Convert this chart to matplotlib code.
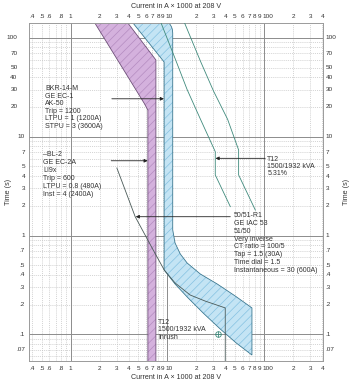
import numpy as np
import matplotlib.pyplot as plt
from matplotlib.patches import Polygon
from matplotlib.transforms import offset_copy
from matplotlib.ticker import FixedLocator, NullFormatter, NullLocator

plt.rcParams['font.family'] = ['Liberation Sans', 'DejaVu Sans']
plt.rcParams['hatch.linewidth'] = 0.5

# axis ticks (current in kA at 208 V, time in s)
x_ticks = [0.4, 0.5, 0.6, 0.8, 1, 2, 3, 4, 5, 6, 7, 8, 9, 10,
           20, 30, 40, 50, 60, 70, 80, 90, 100, 200, 300, 400]
x_labels = ['.4', '.5', '.6', '.8', '1', '2', '3', '4', '5', '6', '7', '8', '9', '10',
            '2', '3', '4', '5', '6', '7', '8', '9', '100', '2', '3', '4']
y_ticks = [0.07, 0.1, 0.2, 0.3, 0.4, 0.5, 0.7, 1, 2, 3, 4, 5, 7,
           10, 20, 30, 40, 50, 70, 100]
y_labels = ['.07', '.1', '.2', '.3', '.4', '.5', '.7', '1', '2', '3', '4', '5', '7',
            '10', '20', '30', '40', '50', '70', '100']

# BL-2 breaker band
bl2_x = [1.71, 5.75, 6.28, 6.28, 7.6, 7.6, 3.72]
bl2_y = [150, 21.8, 18.6, 0.04, 0.04, 59.8, 150]

# BKR-14-M breaker band
bkr_x = [4.2, 9.25, 9.25, 12.0, 16.4, 23.5, 35.3, 51.6, 75, 75,
         50.4, 32.8, 21.9, 16.0, 13.6, 12.0, 11.35, 11.35, 11.25, 11.0, 10.5, 10.2]
bkr_y = [150, 57, 0.448, 0.323, 0.233, 0.164, 0.113, 0.0817, 0.0617, 0.185,
         0.244, 0.323, 0.408, 0.527, 0.65, 0.84, 1.14, 112, 122, 130, 140, 150]

# 50/51-R1 relay curve
relay_x = [3.0, 4.64, 7.13, 9.27, 12.0, 17.2, 24.6, 39.7, 39.7]
relay_y = [4.82, 1.55, 0.713, 0.448, 0.331, 0.25, 0.217, 0.185, 0.04]

# T12 damage curves
t12a_x = [8.4, 12.0, 16.0, 22.0, 31.3, 31.3, 44.8]
t12a_y = [150, 62, 30, 15, 7.05, 4.1, 1.96]
t12b_x = [14.7, 22.0, 30.0, 42.0, 54.6, 54.6, 81.3]
t12b_y = [150, 58, 29, 15, 7.34, 4.1, 1.81]

# T12 inrush point
inrush_x = [33.5]
inrush_y = [0.1]

purple = '#d4b1dd'
purple_h = '#b48bc0'
blue = '#c4e4f4'
blue_h = '#86c2e2'
teal = '#3f8a7c'
txt = '#333333'

fig = plt.figure(figsize=(3.52, 3.88), dpi=100)
ax = fig.add_axes([29.3 / 352, 1 - 361 / 388, 293.4 / 352, 338.3 / 388])
ax.set_xscale('log')
ax.set_yscale('log')
ax.set_xlim(0.372, 405)
ax.set_ylim(0.0537, 142.5)

# grid
minor_x = [m * 10.0 ** e for e in range(-1, 3) for m in range(2, 10)]
minor_y = [m * 10.0 ** e for e in range(-2, 3) for m in range(2, 10)]
for v in minor_x:
    ax.axvline(v, color='#c4c4c4', lw=0.5, ls=(0, (1.5, 1.5)), zorder=0)
for v in minor_y:
    ax.axhline(v, color='#c4c4c4', lw=0.5, ls=(0, (1.5, 1.5)), zorder=0)
for v in [1, 10, 100]:
    ax.axvline(v, color='#8c8c8c', lw=0.7, zorder=0.5)
for v in [0.1, 1, 10, 100]:
    ax.axhline(v, color='#8c8c8c', lw=0.7, zorder=0.5)

# bands
ax.add_patch(Polygon(list(zip(bl2_x, bl2_y)), closed=True, facecolor=purple,
                     edgecolor=purple_h, hatch='////', lw=0, zorder=2))
ax.add_patch(Polygon(list(zip(bl2_x, bl2_y)), closed=True, fill=False,
                     edgecolor='#6e5078', lw=0.6, zorder=2.5))
ax.add_patch(Polygon(list(zip(bkr_x, bkr_y)), closed=True, facecolor=blue,
                     edgecolor=blue_h, hatch='////', lw=0, zorder=2))
ax.add_patch(Polygon(list(zip(bkr_x, bkr_y)), closed=True, fill=False,
                     edgecolor='#3c7890', lw=0.6, zorder=2.5))

# curves
ax.plot(relay_x, relay_y, color='#4a5a58', lw=0.6, zorder=3)
ax.plot(t12a_x, t12a_y, color=teal, lw=0.6, zorder=3)
ax.plot(t12b_x, t12b_y, color=teal, lw=0.6, zorder=3)
ax.plot(inrush_x, inrush_y, 'o', ms=4, mfc='none', mec=teal, mew=0.6, zorder=4)
ax.plot(inrush_x, inrush_y, '+', ms=4, mec=teal, mew=0.6, zorder=4)

# arrows
ap = dict(arrowstyle='-|>', lw=0.6, color='#222222', mutation_scale=5,
          shrinkA=0, shrinkB=0)
ax.annotate('', xy=(9.2, 24.2), xytext=(2.66, 24.2), arrowprops=ap, zorder=5)
ax.annotate('', xy=(6.25, 5.71), xytext=(2.62, 5.71), arrowprops=ap, zorder=5)
ax.annotate('', xy=(31.5, 6.04), xytext=(103, 6.04), arrowprops=ap, zorder=5)
ax.annotate('', xy=(4.7, 1.55), xytext=(44.8, 1.55), arrowprops=ap, zorder=5)

# annotations
fs = 5
ax.text(0.545, 33, 'BKR-14-M\nGE EC-1\nAK-50\nTrip = 1200\nLTPU = 1 (1200A)\nSTPU = 3 (3600A)',
        fontsize=fs, color=txt, va='top', ha='left', linespacing=1.1)
ax.text(0.52, 7.17, '–BL-2\nGE EC-2A\nLI9x\nTrip = 600\nLTPU = 0.8 (480A)\nInst = 4 (2400A)',
        fontsize=fs, color=txt, va='top', ha='left', linespacing=1.2)
ax.text(108, 6.45, 'T12\n1500/1932 kVA\n5.31%',
        fontsize=fs, color=txt, va='top', ha='left', linespacing=1.05)
ax.text(48.4, 1.71, '50/51-R1\nGE IAC 53\n51/50\nVery inverse\nCT ratio = 100/5\n'
        'Tap = 1.5 (30A)\nTime dial = 1.5\nInstantaneous = 30 (600A)',
        fontsize=fs, color=txt, va='top', ha='left', linespacing=1.15)
ax.text(8.03, 0.1445, 'T12\n1500/1932 kVA\nInrush',
        fontsize=fs, color=txt, va='top', ha='left', linespacing=1.15)

# tick labels drawn as text so that they sit like the original
ax.xaxis.set_major_locator(NullLocator())
ax.yaxis.set_major_locator(NullLocator())
ax.xaxis.set_minor_locator(NullLocator())
ax.yaxis.set_minor_locator(NullLocator())
tfs = 4.6
xt = ax.get_xaxis_transform()
yt = ax.get_yaxis_transform()
for v, lab in zip(x_ticks, x_labels):
    if len(lab) > 1 and lab[0] != '.':
        tr = offset_copy(xt, fig, x=-1.8, units='dots')
        ha = 'left'
    else:
        tr = xt
        ha = 'center'
    ax.text(v, (361 - 368) / 338.3, lab, transform=tr, fontsize=tfs, color=txt,
            ha=ha, va='center', clip_on=False)
    ax.text(v, (361 - 17) / 338.3, lab, transform=tr, fontsize=tfs, color=txt,
            ha=ha, va='center', clip_on=False)
for v, lab in zip(y_ticks, y_labels):
    right_px = 17.5 if v >= 20 else 25.0
    ax.text((right_px - 29.3) / 293.4, v, lab, transform=yt, fontsize=tfs, color=txt,
            ha='right', va='center', clip_on=False)
    ax.text((325.5 - 29.3) / 293.4, v, lab, transform=yt, fontsize=tfs, color=txt,
            ha='left', va='center', clip_on=False)

for s in ax.spines.values():
    s.set_color('#9a9a9a')
    s.set_linewidth(0.7)

fig.text(176 / 352, 1 - 7 / 388, 'Current in A × 1000 at 208 V', fontsize=5.1,
         color=txt, ha='center', va='center')
fig.text(176 / 352, 1 - 377.6 / 388, 'Current in A × 1000 at 208 V', fontsize=5.1,
         color=txt, ha='center', va='center')
fig.text(8 / 352, 1 - 192 / 388, 'Time (s)', fontsize=5.1, color=txt,
         rotation=90, ha='center', va='center')
fig.text(346 / 352, 1 - 192 / 388, 'Time (s)', fontsize=5.1, color=txt,
         rotation=90, ha='center', va='center')

fig.savefig('out.png', dpi=100)
